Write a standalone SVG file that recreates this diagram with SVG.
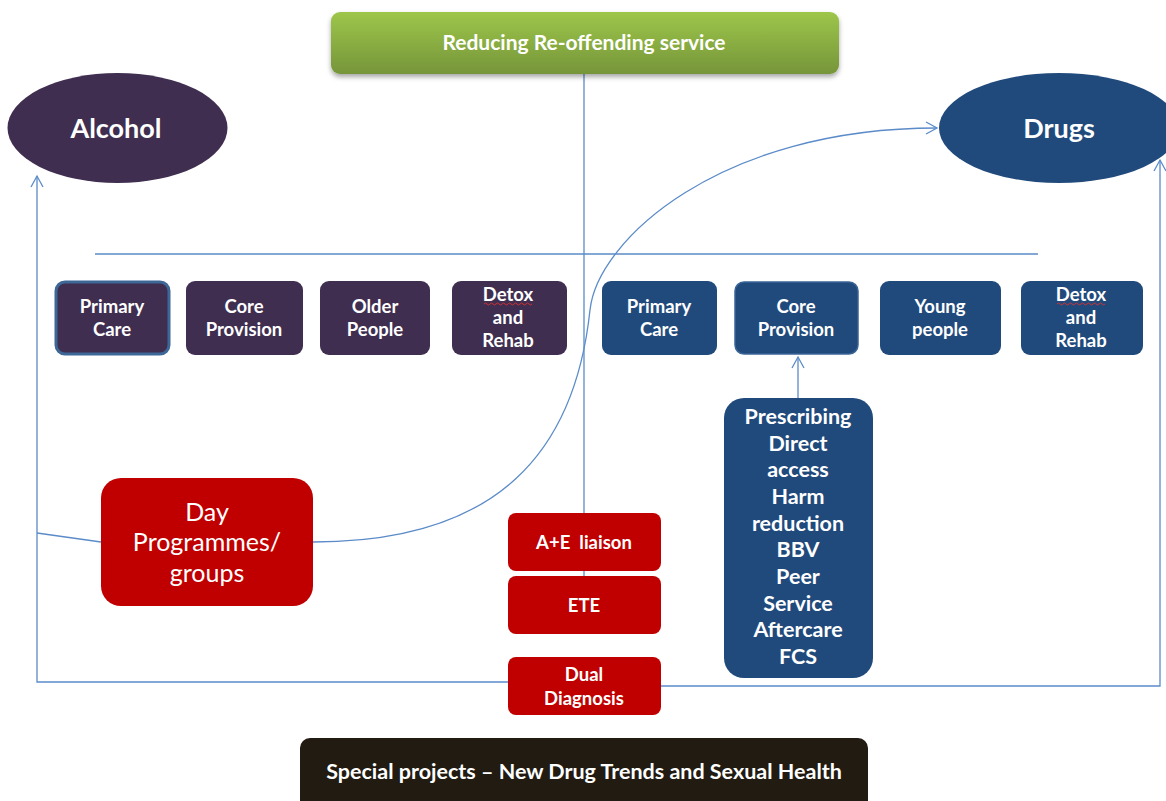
<svg xmlns="http://www.w3.org/2000/svg" width="1166" height="801" viewBox="0 0 1166 801">
<defs>
<linearGradient id="gg" x1="0" y1="0" x2="0" y2="1"><stop offset="0" stop-color="#9dc64a"/><stop offset="1" stop-color="#76953a"/></linearGradient>
<filter id="sh" x="-5%" y="-20%" width="110%" height="150%"><feDropShadow dx="0" dy="3" stdDeviation="2.5" flood-color="#000" flood-opacity="0.35"/></filter>
<marker id="ar" markerWidth="14" markerHeight="14" refX="12" refY="7" orient="auto" markerUnits="userSpaceOnUse"><path d="M1,1 L12,7 L1,13" fill="none" stroke="#5b8bc9" stroke-width="1.3"/></marker>
</defs>
<style>
.t{font-family:Lato,"Open Sans","Liberation Sans",sans-serif;fill:#fff;text-anchor:middle}
.b{font-weight:bold}
.ln{fill:none;stroke:#5b8bc9;stroke-width:1.3}
.al{fill:#3f2e50}
.dr{fill:#214a7c}
.rd{fill:#c00000}
.wv{fill:none;stroke:#e03030;stroke-width:0.9}
</style>
<rect width="1166" height="801" fill="#fff"/>
<g id="connectors">
<line class="ln" x1="584" y1="74" x2="584" y2="577"/>
<line class="ln" x1="95" y1="254" x2="1038" y2="254"/>
<path class="ln" d="M313,542 C500,542 575,450 590,310 C597.5,240 720,128 937,128" marker-end="url(#ar)"/>
<path class="ln" d="M508,682 L37,682 L37,176" marker-end="url(#ar)"/>
<line class="ln" x1="101" y1="542" x2="37" y2="533"/>
<path class="ln" d="M661,686 L1160,686 L1160,160" marker-end="url(#ar)"/>
<line class="ln" x1="798" y1="398" x2="798" y2="357" marker-end="url(#ar)"/>
</g>
<g id="reducing">
<rect x="331" y="12" width="508" height="62" rx="9" fill="url(#gg)" filter="url(#sh)"/>
<text class="t b" x="584" y="50" font-size="21">Reducing Re-offending service</text>
</g>
<g id="alcohol">
<ellipse cx="117.5" cy="128" rx="110" ry="55" class="al"/>
<text class="t b" x="116" y="138" font-size="27">Alcohol</text>
</g>
<g id="drugs">
<ellipse cx="1059" cy="128" rx="120" ry="55" class="dr"/>
<text class="t b" x="1059" y="138" font-size="27">Drugs</text>
</g>
<g id="a-primary">
<rect x="56" y="282" width="113" height="72" rx="9" class="al" stroke="#3d6797" stroke-width="3"/>
<text class="t b" x="112" y="313" font-size="18.5">Primary</text>
<text class="t b" x="112" y="336" font-size="18.5">Care</text>
</g>
<g id="a-core">
<rect x="186" y="281" width="117" height="74" rx="9" class="al"/>
<text class="t b" x="244" y="313" font-size="18.5">Core</text>
<text class="t b" x="244" y="336" font-size="18.5">Provision</text>
</g>
<g id="a-older">
<rect x="320" y="281" width="110" height="74" rx="9" class="al"/>
<text class="t b" x="375" y="313" font-size="18.5">Older</text>
<text class="t b" x="375" y="336" font-size="18.5">People</text>
</g>
<g id="a-detox">
<rect x="452" y="281" width="115" height="74" rx="9" class="al"/>
<text class="t b" x="508" y="301" font-size="18.5">Detox</text>
<path class="wv" d="M484,304 q1.5,-2 3,0 t3,0 t3,0 t3,0 t3,0 t3,0 t3,0 t3,0 t3,0 t3,0 t3,0 t3,0 t3,0 t3,0 t3,0 t3,0"/>
<text class="t b" x="508" y="324" font-size="18.5">and</text>
<text class="t b" x="508" y="347" font-size="18.5">Rehab</text>
</g>
<g id="d-primary">
<rect x="602" y="281" width="115" height="74" rx="9" class="dr"/>
<text class="t b" x="659" y="313" font-size="18.5">Primary</text>
<text class="t b" x="659" y="336" font-size="18.5">Care</text>
</g>
<g id="d-core">
<rect x="735" y="282" width="123" height="72" rx="9" class="dr" stroke="#3a6496" stroke-width="1.5"/>
<text class="t b" x="796" y="313" font-size="18.5">Core</text>
<text class="t b" x="796" y="336" font-size="18.5">Provision</text>
</g>
<g id="d-young">
<rect x="880" y="281" width="121" height="74" rx="9" class="dr"/>
<text class="t b" x="940" y="313" font-size="18.5">Young</text>
<text class="t b" x="940" y="336" font-size="18.5">people</text>
</g>
<g id="d-detox">
<rect x="1021" y="281" width="122" height="74" rx="9" class="dr"/>
<text class="t b" x="1081" y="301" font-size="18.5">Detox</text>
<path class="wv" d="M1057,304 q1.5,-2 3,0 t3,0 t3,0 t3,0 t3,0 t3,0 t3,0 t3,0 t3,0 t3,0 t3,0 t3,0 t3,0 t3,0 t3,0 t3,0"/>
<text class="t b" x="1081" y="324" font-size="18.5">and</text>
<text class="t b" x="1081" y="347" font-size="18.5">Rehab</text>
</g>
<g id="day">
<rect x="101" y="478" width="212" height="128" rx="20" class="rd"/>
<text class="t" x="207" y="521" font-size="25">Day</text>
<text class="t" x="207" y="551" font-size="25">Programmes/</text>
<text class="t" x="207" y="582" font-size="25">groups</text>
</g>
<g id="ae">
<rect x="508" y="513" width="153" height="58" rx="8" class="rd"/>
<text class="t b" x="584" y="549" font-size="18.5" xml:space="preserve">A+E  liaison</text>
</g>
<g id="ete">
<rect x="508" y="576" width="153" height="58" rx="8" class="rd"/>
<text class="t b" x="584" y="612" font-size="18.5">ETE</text>
</g>
<g id="dual">
<rect x="508" y="657" width="153" height="58" rx="8" class="rd"/>
<text class="t b" x="584" y="681" font-size="18.5">Dual</text>
<text class="t b" x="584" y="705" font-size="18.5">Diagnosis</text>
</g>
<g id="prescribing">
<rect x="724" y="398" width="149" height="280" rx="20" class="dr"/>
<g class="t b" font-size="21.5">
<text x="798" y="424">Prescribing</text>
<text x="798" y="451">Direct</text>
<text x="798" y="477">access</text>
<text x="798" y="504">Harm</text>
<text x="798" y="531">reduction</text>
<text x="798" y="557">BBV</text>
<text x="798" y="584">Peer</text>
<text x="798" y="611">Service</text>
<text x="798" y="637">Aftercare</text>
<text x="798" y="664">FCS</text>
</g>
</g>
<g id="special">
<rect x="300" y="738" width="568" height="75" rx="10" fill="#211b12"/>
<text class="t b" x="584" y="779" font-size="21.5">Special projects – New Drug Trends and Sexual Health</text>
</g>
</svg>
